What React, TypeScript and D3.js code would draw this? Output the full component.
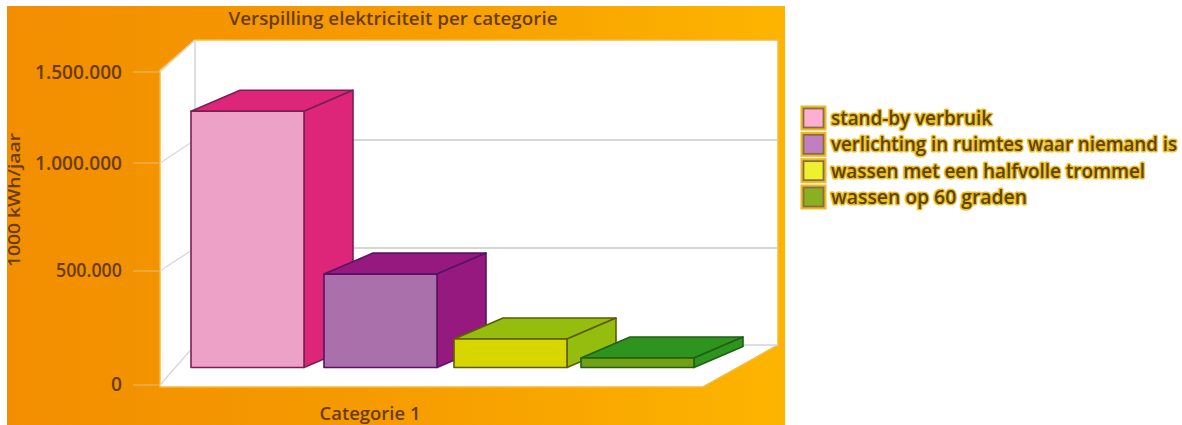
import React from "react";
import * as d3 from "d3";

const title = "Verspilling elektriciteit per categorie";
const yTitle = "1000 kWh/jaar";
const xCategory = "Categorie 1";
const series = [
  "stand-by verbruik",
  "verlichting in ruimtes waar niemand is",
  "wassen met een halfvolle trommel",
  "wassen op 60 graden",
];
const values = [1240000, 452000, 138000, 46000];
const tickValues = [0, 500000, 1000000, 1500000];
const tickLabels = ["0", "500.000", "1.000.000", "1.500.000"];
const frontColors = ["#eda1c6", "#aa70ab", "#d8d600", "#73a012"];
const sideColors = ["#dd2579", "#95197f", "#94bd0e", "#2f9320"];
const edgeColors = ["#7c1f55", "#5c1262", "#5e5c00", "#1f6210"];
const swatchColors = ["#fbb0d2", "#c080c0", "#eef22e", "#88b020"];

const legendWidths = [161, 346, 314, 196];
const tickWidths = [11, 66, 87, 87];

const W = 1182;
const H = 425;
const DEPTH_X = 49;
const DEPTH_Y = -21;
const INK = "#6a3c05";
const FONT = "'Open Sans', 'Noto Sans', sans-serif";

// Perspective makes the axis spacing uneven, so each plane has its own scale.
const axisFront = d3.scaleLinear().domain(tickValues).range([385, 271, 163, 72]);
const labelY = d3.scaleLinear().domain(tickValues).range([384, 270, 163, 72]);
const wallBack = d3.scaleLinear().domain(tickValues).range([345, 248, 140, 40]);
const barY = d3.scaleLinear().domain([0, 1500000]).range([367.5, 57.5]);
const barX = d3.scaleLinear().domain([0, 1, 2, 3]).range([191, 324, 454, 581]);
const BAR_W = 113;

const pts = (p: [number, number][]) => p.map((d) => d.join(",")).join(" ");

function Bar({ i }: { i: number }) {
  const x0 = barX(i);
  const x1 = x0 + BAR_W;
  const y0 = barY(0);
  const y1 = barY(values[i]);
  const common = {
    stroke: edgeColors[i],
    strokeWidth: 1.6,
    strokeLinejoin: "round" as const,
  };
  return (
    <g>
      <polygon
        points={pts([[x0, y1], [x1, y1], [x1 + DEPTH_X, y1 + DEPTH_Y], [x0 + DEPTH_X, y1 + DEPTH_Y]])}
        fill={sideColors[i]}
        {...common}
      />
      <polygon
        points={pts([[x1, y0], [x1, y1], [x1 + DEPTH_X, y1 + DEPTH_Y], [x1 + DEPTH_X, y0 + DEPTH_Y]])}
        fill={sideColors[i]}
        {...common}
      />
      <rect x={x0} y={y1} width={BAR_W} height={y0 - y1} fill={frontColors[i]} {...common} />
    </g>
  );
}

export default function App() {
  const legendY = d3.scaleLinear().domain([0, 3]).range([107, 186]);
  return (
    <svg
      width={W}
      height={H}
      viewBox={`0 0 ${W} ${H}`}
      style={{ position: "absolute", left: 0, top: 0, display: "block" }}
      fontFamily={FONT}
    >
      <defs>
        <linearGradient id="panel" x1="0" x2="1" y1="0" y2="0">
          <stop offset="0" stopColor="#f28e00" />
          <stop offset="0.45" stopColor="#f59a00" />
          <stop offset="1" stopColor="#fdb400" />
        </linearGradient>
      </defs>
      <rect width={W} height={H} fill="#fff" />
      <rect x={7} y={6} width={778} height={419} fill="url(#panel)" />

      {/* box walls and floor */}
      <polygon
        points={pts([[160, 70], [195, 40], [778, 40], [778, 345], [703, 387], [160, 387]])}
        fill="#fff"
        stroke="#f5bb3c"
        strokeWidth={1.5}
      />
      <line x1={195} x2={195} y1={40} y2={345} stroke="#cfd2da" strokeWidth={1.5} />
      <line x1={195} x2={778} y1={wallBack(0)} y2={wallBack(0)} stroke="#cdd3e0" strokeWidth={1.5} />

      {tickValues.map((v, i) => (
        <g key={v}>
          {v > 0 && v < 1500000 && (
            <line x1={195} x2={778} y1={wallBack(v)} y2={wallBack(v)} stroke="#c9c9c9" strokeWidth={1.6} />
          )}
          <line
            x1={160}
            x2={195}
            y1={axisFront(v)}
            y2={wallBack(v)}
            stroke="#d6d8da"
            strokeWidth={1.3}
          />
          <line
            x1={133}
            x2={160}
            y1={axisFront(v)}
            y2={axisFront(v)}
            stroke="#e8b45a"
            strokeWidth={1.3}
          />
          <text
            x={122}
            y={labelY(v)}
            dy="0.36em"
            textAnchor="end"
            fontSize={19}
            fontWeight={600}
            fill={INK}
            textLength={tickWidths[i]}
            lengthAdjust="spacingAndGlyphs"
          >
            {tickLabels[i]}
          </text>
        </g>
      ))}

      {values.map((_, i) => (
        <Bar key={series[i]} i={i} />
      ))}

      <text
        x={393}
        y={25}
        textAnchor="middle"
        fontSize={18}
        fontWeight={600}
        fill={INK}
        textLength={329}
        lengthAdjust="spacingAndGlyphs"
      >
        {title}
      </text>
      <text
        transform="translate(20,200) rotate(-90)"
        textAnchor="middle"
        fontSize={17}
        fontWeight={600}
        fill={INK}
        textLength={134}
        lengthAdjust="spacingAndGlyphs"
      >
        {yTitle}
      </text>
      <text
        x={370}
        y={420}
        textAnchor="middle"
        fontSize={18}
        fontWeight={600}
        fill={INK}
        textLength={101}
        lengthAdjust="spacingAndGlyphs"
      >
        {xCategory}
      </text>

      {/* legend, with the halo painted behind each label */}
      {series.map((s, i) => {
        const y = legendY(i);
        return (
          <g key={s}>
            <rect x={802} y={y} width={23} height={22} fill={swatchColors[i]} stroke="#ecbc1e" strokeWidth={3} />
            <rect x={803.5} y={y + 1.5} width={20} height={19} fill="none" stroke="#8c6a4a" strokeWidth={1.8} />
            <text
              x={831}
              y={y + 18}
              fontSize={19}
              fontWeight={600}
              fill="#5a4410"
              stroke="#efbd1c"
              strokeWidth={3}
              paintOrder="stroke"
              strokeLinejoin="round"
              textLength={legendWidths[i]}
              lengthAdjust="spacingAndGlyphs"
            >
              {s}
            </text>
          </g>
        );
      })}
    </svg>
  );
}
